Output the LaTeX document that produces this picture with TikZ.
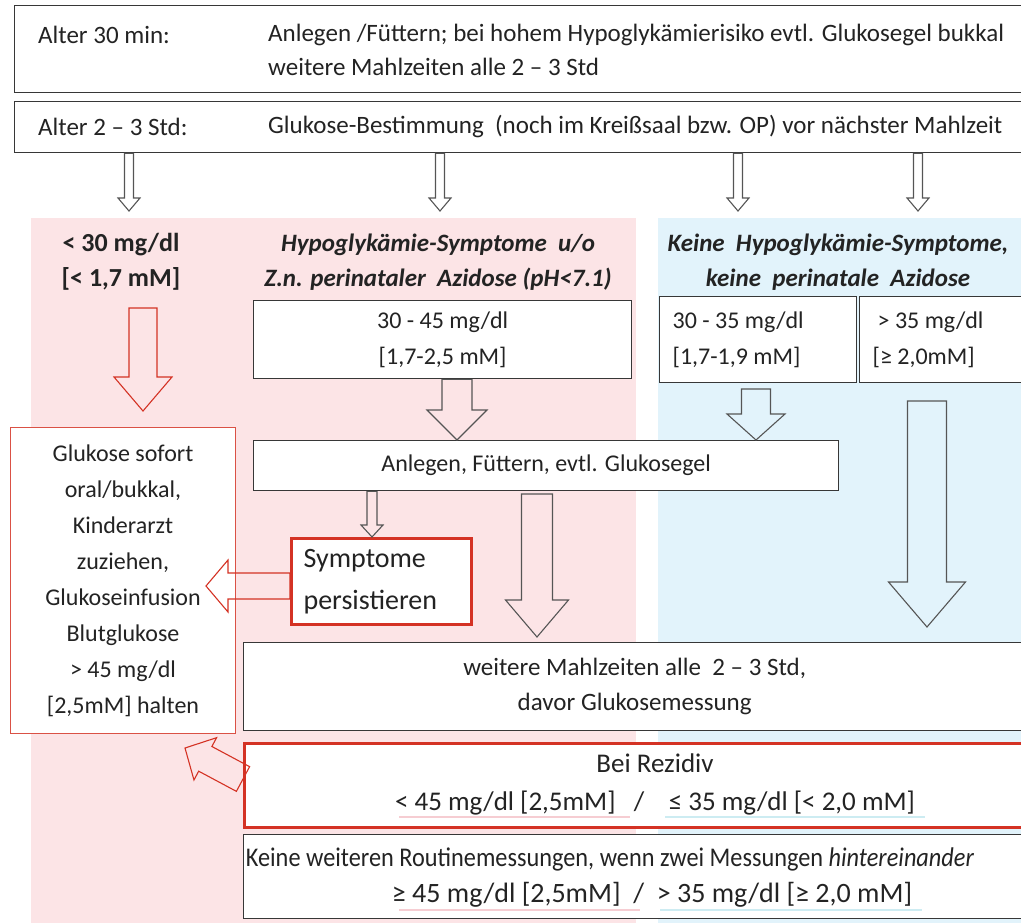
\documentclass[tikz,border=0pt]{standalone}
\usepackage{fontspec}
\setmainfont{Carlito}
\newfontfamily\tightfont[FakeStretch=0.9]{Carlito}
\usetikzlibrary{calc}

\definecolor{bgpink}{RGB}{252,228,230}
\definecolor{bgblue}{RGB}{226,243,251}
\definecolor{alertred}{RGB}{212,50,36}
\definecolor{boxgray}{RGB}{55,55,55}
\definecolor{arrowgray}{RGB}{85,85,85}
\definecolor{textdark}{RGB}{35,35,35}
\definecolor{linepink}{RGB}{246,205,210}
\definecolor{linecyan}{RGB}{205,236,242}

% hollow block arrow: style, tail, tip, shaft half width, head half width, head length
\newcommand{\hollowarrow}[6]{%
  \path #2 coordinate (ha-base);
  \path #3 coordinate (ha-tip);
  \path ($(ha-tip)!#6!(ha-base)$) coordinate (ha-head);
  \draw[#1] ($(ha-base)!#4!90:(ha-tip)$) -- ($(ha-head)!#4!90:(ha-tip)$)
    -- ($(ha-head)!#5!90:(ha-tip)$) -- (ha-tip) -- ($(ha-head)!#5!-90:(ha-tip)$)
    -- ($(ha-head)!#4!-90:(ha-tip)$) -- ($(ha-base)!#4!-90:(ha-tip)$) -- cycle;
}

\begin{document}
\begin{tikzpicture}[x=1pt,y=-1pt,font=\fontsize{24}{36}\selectfont,text=textdark]
      \tikzstyle{flow box}=[draw=boxgray,fill=white,line width=1.3pt,inner sep=0pt,anchor=north west,align=center]
      \tikzstyle{red box}=[flow box,draw=alertred,line width=3.2pt]
      \tikzstyle{thin red box}=[flow box,draw=alertred!85,line width=1pt]
      \tikzstyle{plain text}=[inner sep=0pt,anchor=west]
      \tikzstyle{top text}=[plain text,font=\fontsize{25}{32}\selectfont]
      \tikzstyle{group head}=[inner sep=0pt,align=center,font=\bfseries\itshape\fontsize{25}{35}\selectfont]
      \tikzstyle{gray arrow}=[draw=arrowgray,line width=1.1pt]
      \tikzstyle{red arrow}=[draw=alertred,line width=1.1pt]

      \useasboundingbox (0,0) rectangle (1021,923);

      % coloured columns
      \fill[bgpink] (31,218) rectangle (636,923);
      \fill[bgblue] (658,218) rectangle (1021,923);

      % age rows
      \node[flow box,minimum width=1011pt,minimum height=87pt] (age30) at (14,5) {};
      \node[top text] (age30lbl) at (38,35) {Alter 30 min:};
      \node[top text] (age30txt) at (268,35) {Anlegen /Füttern; bei hohem Hypoglykämierisiko evtl. Glukosegel bukkal};
      \node[top text] (age30more) at (268,67) {weitere Mahlzeiten alle 2 – 3 Std};
      \node[flow box,minimum width=1011pt,minimum height=51pt] (age2) at (14,101) {};
      \node[top text] (age2lbl) at (38,127) {Alter 2 – 3 Std:};
      \node[top text] (age2txt) at (268,127) {Glukose-Bestimmung\ \ (noch im Kreißsaal bzw. OP) vor nächster Mahlzeit};

      % group headings
      \node[group head,font=\bfseries\fontsize{26}{35}\selectfont] (lowhdr) at (121,262) {< 30 mg/dl\\{}[< 1,7 mM]};
      \node[group head] (symhdr) at (438,262)
          {Hypoglykämie-Symptome\ \ u/o\\Z.n. perinataler\ \ Azidose (pH<7.1)};
      \node[group head] (nosymhdr) at (838,262)
          {Keine\ \ Hypoglykämie-Symptome,\\keine\ \ perinatale\ \ Azidose};

      % value boxes
      \node[flow box,minimum width=378pt,minimum height=78pt] (b3045) at (253,300) {30 - 45 mg/dl\\{}[1,7-2,5 mM]};
      \node[flow box,minimum width=197pt,minimum height=86pt,text width=171pt,align=flush left] (b3035) at (659,296)
          {30 - 35 mg/dl\\{}[1,7-1,9 mM]};
      \node[flow box,minimum width=166pt,minimum height=86pt,text width=140pt,align=flush left] (bgt35) at (859,296)
          {\hspace*{5pt}> 35 mg/dl\\{}[≥ 2,0mM]};

      \node[flow box,minimum width=585pt,minimum height=50pt] (feed) at (253,440) {Anlegen, Füttern, evtl. Glukosegel};
      \node[thin red box,minimum width=225pt,minimum height=306pt] (gluk) at (10,427)
          {Glukose sofort\\oral/bukkal,\\Kinderarzt\\zuziehen,\\Glukoseinfusion\\Blutglukose\\> 45 mg/dl\\{}[2,5mM] halten};
      \node[red box,minimum width=180pt,minimum height=86pt,text width=156pt,align=flush left,
          font=\fontsize{28}{42}\selectfont] (sympt) at (290,537) {Symptome\\persistieren};

      \node[flow box,minimum width=782pt,minimum height=88pt,font=\fontsize{25}{35}\selectfont] (meals) at (243,642)
          {weitere Mahlzeiten alle\ \ 2 – 3 Std,\\davor Glukosemessung};

      \node[red box,minimum width=782pt,minimum height=84pt] (rezid) at (243,742) {};
      \node[plain text,anchor=center,align=center,font=\fontsize{27}{38}\selectfont] (rezidtxt) at (655,784)
          {Bei Rezidiv\\< 45 mg/dl [2,5mM]\ \ \ /\ \ \ \ ≤ 35 mg/dl [< 2,0 mM]};
      \draw[linepink,line width=2pt] (399,817) -- (630,817);
      \draw[linecyan,line width=2pt] (665,817) -- (925,817);

      \node[flow box,minimum width=782pt,minimum height=84pt] (stop) at (243,834) {};
      \node[plain text,anchor=center,font=\tightfont\fontsize{27}{36}\selectfont] (stopA) at (610,859)
          {Keine weiteren Routinemessungen, wenn zwei Messungen \textit{hintereinander}};
      \node[plain text,anchor=center,font=\fontsize{28}{36}\selectfont] (stopB) at (652,895)
          {≥ 45 mg/dl [2,5mM]\ \ /\ \ > 35 mg/dl [≥ 2,0 mM]};
      \draw[linepink,line width=2pt] (399,910) -- (640,910);
      \draw[linecyan,line width=2pt] (660,910) -- (922,910);

      % arrow ends
      \coordinate (tipA) at (129,211);
      \coordinate (tipB) at (440,211);
      \coordinate (tipC) at (738,211);
      \coordinate (tipD) at (918,211);
      \coordinate (lowtop) at (143,308);
      \coordinate (lowtip) at (143,411);
      \coordinate (symtip) at (206,586);
      \coordinate (symtail) at (290,586);
      \coordinate (reztail) at (243,779);
      \coordinate (reztip) at (185,748);

      % connectors
      \foreach \t in {tipA,tipB,tipC,tipD}
          \hollowarrow{gray arrow}{(age2.south -| \t)}{(\t)}{4.5pt}{11pt}{13pt};
      \hollowarrow{red arrow}{(lowtop)}{(lowtip)}{14pt}{29pt}{34pt}
      \hollowarrow{gray arrow}{(b3045.south -| 457,0)}{(feed.north -| 457,0)}{15pt}{30pt}{30pt}
      \hollowarrow{gray arrow}{(756,389)}{(feed.north -| 756,0)}{14.5pt}{29pt}{26pt}
      \hollowarrow{gray arrow}{(927,401)}{(927,627)}{19.5pt}{38.5pt}{45pt}
      \hollowarrow{gray arrow}{(feed.south -| 372,0)}{(sympt.north -| 372,0)}{5pt}{11pt}{12pt}
      \hollowarrow{gray arrow}{(537,494)}{(537,637)}{15.5pt}{31.5pt}{37pt}
      \hollowarrow{red arrow}{(symtail)}{(symtip)}{13pt}{26pt}{22pt}
      \hollowarrow{red arrow}{(reztail)}{(reztip)}{14pt}{24pt}{23pt}
\end{tikzpicture}
\end{document}
